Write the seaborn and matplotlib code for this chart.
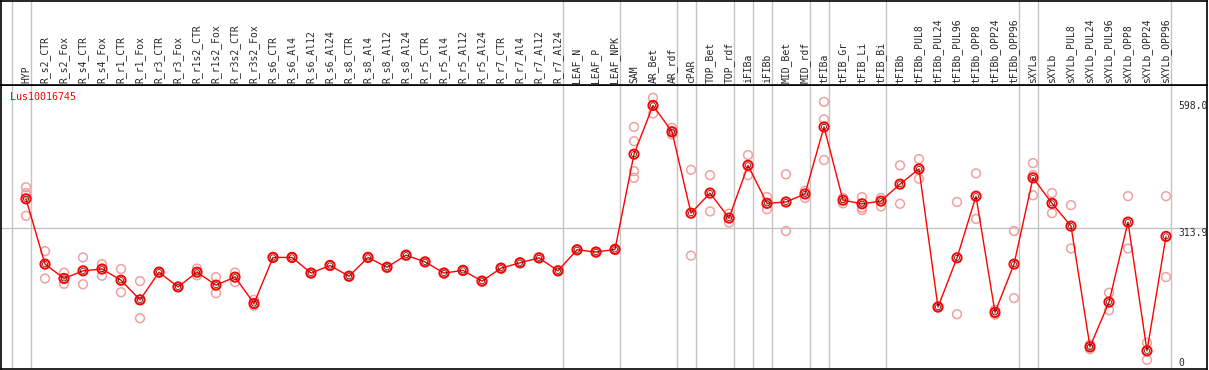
import matplotlib
matplotlib.use("Agg")
import matplotlib.pyplot as plt
import matplotlib.transforms as mtransforms
import seaborn as sns
import pandas as pd

# sample names (header columns)
samples = ['HYP', 'R_s2_CTR', 'R_s2_Fox', 'R_s4_CTR', 'R_s4_Fox', 'R_r1_CTR', 'R_r1_Fox',
           'R_r3_CTR', 'R_r3_Fox', 'R_r1s2_CTR', 'R_r1s2_Fox', 'R_r3s2_CTR', 'R_r3s2_Fox',
           'R_s6_CTR', 'R_s6_Al4', 'R_s6_Al12', 'R_s6_Al24', 'R_s8_CTR', 'R_s8_Al4',
           'R_s8_Al12', 'R_s8_Al24', 'R_r5_CTR', 'R_r5_Al4', 'R_r5_Al12', 'R_r5_Al24',
           'R_r7_CTR', 'R_r7_Al4', 'R_r7_Al12', 'R_r7_Al24', 'LEAF_N', 'LEAF_P', 'LEAF_NPK',
           'SAM', 'AR_Bet', 'AR_rdf', 'cPAR', 'TOP_Bet', 'TOP_rdf', 'iFIBa', 'iFIBb',
           'MID_Bet', 'MID_rdf', 'tFIBa', 'tFIB_Gr', 'tFIB_Li', 'tFIB_Bi', 'tFIBb',
           'tFIBb_PUL8', 'tFIBb_PUL24', 'tFIBb_PUL96', 'tFIBb_OPP8', 'tFIBb_OPP24',
           'tFIBb_OPP96', 'sXYLa', 'sXYLb', 'sXYLb_PUL8', 'sXYLb_PUL24', 'sXYLb_PUL96',
           'sXYLb_OPP8', 'sXYLb_OPP24', 'sXYLb_OPP96']

# mean expression per sample
means = [379, 233, 201, 218, 222, 197, 153, 215, 182, 215, 186, 204, 145, 248, 248,
         213, 230, 206, 248, 226, 253, 238, 213, 219, 195, 224, 236, 247, 218, 265,
         260, 266, 479, 588, 529, 347, 392, 336, 454, 369, 372, 390, 540, 376, 368,
         374, 412, 446, 137, 247, 385, 125, 233, 426, 369, 318, 48, 148, 327, 39, 295]

# replicate values per sample
reps = [[405, 392, 388, 341], [262, 233, 201], [214, 201, 189], [248, 218, 188],
        [233, 222, 207], [222, 197, 170], [195, 153, 112], [216, 214], [182, 182],
        [223, 215, 208], [204, 186, 168], [214, 204, 193], [153, 145, 140],
        [249, 247], [249, 247], [214, 212], [231, 229], [207, 205], [249, 247],
        [227, 225], [254, 252], [239, 237], [214, 212], [220, 218], [196, 194],
        [225, 223], [237, 235], [248, 246], [219, 217], [266, 264], [261, 259],
        [267, 265], [540, 508, 441, 426], [605, 588, 570], [538, 529, 523], [444, 252],
        [432, 351], [346, 326], [477, 432], [383, 356], [434, 307], [397, 381],
        [596, 557, 466], [381, 369], [383, 359, 354], [381, 362], [454, 368],
        [468, 424], [138, 136], [372, 121], [436, 334], [131, 120], [307, 157],
        [459, 432, 387], [392, 347], [365, 268], [53, 43], [169, 130], [385, 268],
        [57, 19], [385, 204]]

# group separators (index of last sample in a group)
group_ends = [-1, 0, 28, 31, 34, 35, 37, 38, 39, 41, 42, 45, 52, 53, 60]
gene = 'Lus10016745'
y_marks = [598.0, 313.9, 0]

mean_df = pd.DataFrame({'pos': range(len(samples)), 'value': means})
rep_df = pd.DataFrame([(i, v) for i, vals in enumerate(reps) for v in vals],
                      columns=['pos', 'value'])

sns.set_style('white')
fig = plt.figure(figsize=(12.09, 3.70), dpi=100)
W, H = 1209, 370
ax = fig.add_axes([1 / W, 1 / H, 1206 / W, 284 / H])
hdr = fig.add_axes([1 / W, 285 / H, 1206 / W, 84 / H], sharex=ax)

xlim = (-25 / 19, 1181 / 19)
for a in (ax, hdr):
    for s in a.spines.values():
        s.set_color('black')
        s.set_linewidth(1.2)
    a.set_xticks([])
    a.set_yticks([])
    for g in group_ends:
        a.axvline(g + 0.24, color='#c4c4c4', lw=1, zorder=0)

ax.axhline(313.9, color='#c4c4c4', lw=1, zorder=0)

sns.scatterplot(data=rep_df, x='pos', y='value', ax=ax, marker='o', s=40,
                facecolors='none', edgecolor='#f0a0a0', linewidth=1.1, zorder=2)
sns.lineplot(data=mean_df, x='pos', y='value', ax=ax, color='red', lw=1,
             estimator=None, sort=False, zorder=3)
sns.scatterplot(data=mean_df, x='pos', y='value', ax=ax, marker='o', s=44,
                facecolors='none', edgecolor='red', linewidth=1.4, zorder=4)
sns.scatterplot(data=mean_df, x='pos', y='value', ax=ax, marker='o', s=14,
                facecolors='none', edgecolor='#330000', linewidth=0.5, zorder=5)

ax.set_xlim(*xlim)
ax.set_ylim(-1.6, 633.7)
ax.set_xlabel('')
ax.set_ylabel('')

mono = 'DejaVu Sans Mono'
for i, name in enumerate(samples):
    hdr.text(i, 0.02, name, rotation=90, ha='center', va='bottom',
             fontsize=7, family=mono, transform=mtransforms.blended_transform_factory(
                 hdr.transData, hdr.transAxes))
hdr.set_ylim(0, 1)

fig.text(10 / W, 1 - 97 / H, gene, color='red', fontsize=7.2, family=mono,
         ha='left', va='center')

tr = mtransforms.blended_transform_factory(ax.transData, ax.transData)
for v in y_marks:
    ax.text((1178 - 26) / 19, v, f'{v:.1f}' if v else '0', fontsize=7, family=mono,
            ha='left', va='bottom' if v == 0 else 'top', transform=tr)

fig.savefig('out.png', dpi=100)
